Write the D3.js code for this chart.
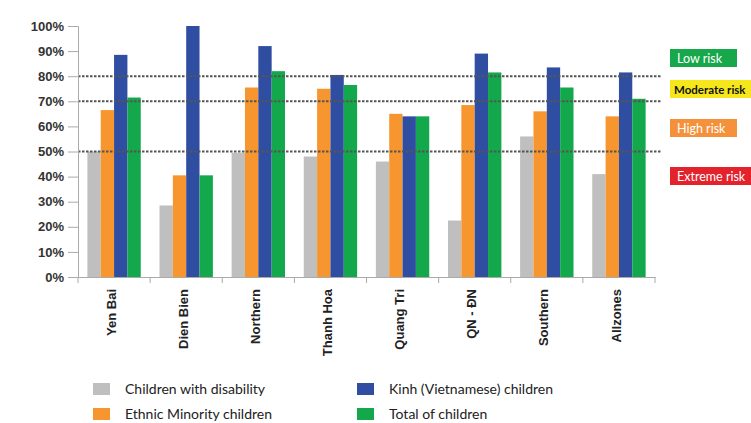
<!DOCTYPE html>
<html>
<head>
<meta charset="utf-8">
<script src="https://cdn.jsdelivr.net/npm/d3@7/dist/d3.min.js"></script>
<style>
  html, body { margin: 0; padding: 0; background: #fff; }
  svg { display: block; font-family: Lato, "Open Sans", sans-serif; }
</style>
</head>
<body>
<svg id="chart" width="751" height="423"></svg>
<script>
// Regions / groups along the x axis
const categories = ["Yen Bai", "Dien Bien", "Northern", "Thanh Hoa", "Quang Tri", "QN - ĐN", "Southern", "Allzones"];

// Share of children per group (%)
const disabilityValues = [50, 28.5, 49.5, 48, 46, 22.5, 56, 41];
const ethnicValues     = [66.5, 40.5, 75.5, 75, 65, 68.5, 66, 64];
const kinhValues       = [88.5, 100, 92, 80.5, 64, 89, 83.5, 81.5];
const totalValues      = [71.5, 40.5, 82, 76.5, 64, 81.5, 75.5, 71];

const seriesNames  = ["Children with disability", "Ethnic Minority children", "Kinh (Vietnamese) children", "Total of children"];
const seriesColors = ["#bfbfbf", "#f7962f", "#2f4ea1", "#12a84b"];

// Risk thresholds and the risk bands listed on the right
const thresholds = [80, 70, 50];
const riskLabels = ["Low risk", "Moderate risk", "High risk", "Extreme risk"];
const riskColors = ["#17a84b", "#f6e71c", "#f4913a", "#e3222b"];
const riskText   = ["#ffffff", "#111111", "#ffffff", "#ffffff"];

const yTicks = [0, 10, 20, 30, 40, 50, 60, 70, 80, 90, 100];

const svg = d3.select("#chart");
const margin = { left: 78, right: 96, top: 26, bottom: 146 };
const W = 751, H = 423;
const plotW = W - margin.left - margin.right;   // 577
const plotH = H - margin.top - margin.bottom;   // 251

const x = d3.scaleBand().domain(categories).range([margin.left, margin.left + plotW]).paddingInner(0).paddingOuter(0);
const inner = d3.scaleBand().domain(d3.range(4)).range([x.bandwidth() * 0.13, x.bandwidth() * 0.87]).padding(0);
const y = d3.scaleLinear().domain([0, 100]).range([margin.top + plotH, margin.top]);

const allSeries = [disabilityValues, ethnicValues, kinhValues, totalValues];

// Bars
const groups = svg.append("g").selectAll("g").data(categories).join("g")
  .attr("transform", d => `translate(${x(d)},0)`);
groups.selectAll("rect")
  .data((c, i) => allSeries.map((s, k) => ({ k, v: s[i] })))
  .join("rect")
  .attr("x", d => inner(d.k))
  .attr("width", inner.bandwidth())
  .attr("y", d => y(d.v))
  .attr("height", d => y(0) - y(d.v))
  .attr("fill", d => seriesColors[d.k]);

// Threshold lines
svg.append("g").selectAll("line").data(thresholds).join("line")
  .attr("x1", margin.left).attr("x2", margin.left + plotW + 7)
  .attr("y1", d => y(d)).attr("y2", d => y(d))
  .attr("stroke", "#555").attr("stroke-width", 2).attr("stroke-dasharray", "2.5,1.5");

// Y axis
const yAxis = svg.append("g").attr("transform", `translate(${margin.left},0)`)
  .call(d3.axisLeft(y).tickValues(yTicks).tickFormat(d => d + "%").tickSize(10).tickPadding(4));
yAxis.select(".domain").attr("stroke", "#aaa");
yAxis.selectAll(".tick line").attr("stroke", "#aaa");
yAxis.selectAll("text").attr("font-size", 13).attr("font-weight", 700).attr("fill", "#333");

// X axis
const xAxis = svg.append("g").attr("transform", `translate(0,${y(0)})`)
  .call(d3.axisBottom(x).tickSize(0).tickPadding(0));
xAxis.select(".domain").attr("stroke", "#aaa");
xAxis.selectAll(".tick text")
  .attr("transform", "rotate(-90)")
  .attr("text-anchor", "end")
  .attr("dx", "-12")
  .attr("dy", "0.35em")
  .attr("x", 0).attr("y", -3)
  .attr("font-size", 13).attr("font-weight", 700).attr("fill", "#222");
svg.append("g").selectAll("line").data(d3.range(categories.length + 1)).join("line")
  .attr("x1", i => margin.left + i * x.bandwidth()).attr("x2", i => margin.left + i * x.bandwidth())
  .attr("y1", y(0)).attr("y2", y(0) + 6).attr("stroke", "#aaa");

// Risk band labels
const riskY = [49, 80, 119, 167];
const riskW = [67, 81, 67, 81];
const riskSize = [12.5, 11.5, 12.5, 12.5];
const risk = svg.append("g").selectAll("g").data(riskLabels).join("g")
  .attr("transform", (d, i) => `translate(670,${riskY[i]})`);
risk.append("rect").attr("width", (d, i) => riskW[i]).attr("height", 18).attr("fill", (d, i) => riskColors[i]);
risk.append("text").attr("x", (d, i) => i === 1 ? 4 : 7).attr("y", 13.5)
  .attr("font-size", (d, i) => riskSize[i]).attr("font-weight", (d, i) => i === 1 ? 700 : 400)
  .attr("fill", (d, i) => riskText[i]).text(d => d);

// Legend
const legPos = [[93, 383], [93, 408], [357, 383], [357, 408]];
const leg = svg.append("g").selectAll("g").data(seriesNames).join("g")
  .attr("transform", (d, i) => `translate(${legPos[i][0]},${legPos[i][1]})`);
leg.append("rect").attr("width", 17).attr("height", 12).attr("fill", (d, i) => seriesColors[i]);
leg.append("text").attr("x", 32).attr("y", 11).attr("font-size", 14).attr("fill", "#222").text(d => d);
</script>
</body>
</html>
